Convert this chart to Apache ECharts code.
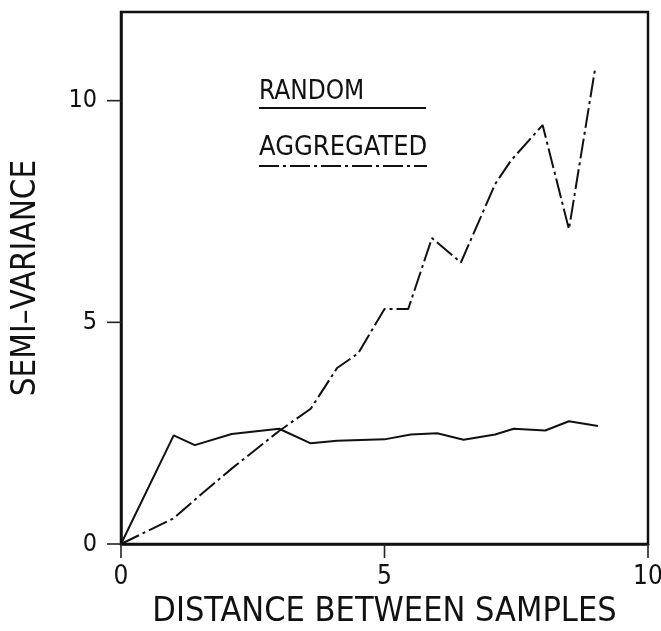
<!DOCTYPE html>
<html>
<head>
<meta charset="utf-8">
<script src="https://cdn.jsdelivr.net/npm/echarts@6/dist/echarts.min.js"></script>
<style>
html,body{margin:0;padding:0;background:#fff;}
#chart{width:661px;height:631px;}
</style>
</head>
<body>
<div id="chart"></div>
<script>
var FONT = '"DejaVu Sans Condensed", "Liberation Sans Narrow", "DejaVu Sans", sans-serif';

// random samples (solid line)
var randomX = [0, 1.0, 1.4, 2.1, 3.0, 3.6, 4.1, 5.0, 5.5, 6.0, 6.5, 7.1, 7.45, 8.05, 8.5, 9.05];
var randomY = [0, 2.45, 2.23, 2.48, 2.6, 2.27, 2.33, 2.36, 2.47, 2.5, 2.35, 2.47, 2.6, 2.56, 2.77, 2.66];

// aggregated samples (dash-dot line)
var aggX = [0, 1.0, 1.5, 2.1, 3.0, 3.6, 4.1, 4.5, 5.0, 5.45, 5.9, 6.45, 7.1, 7.4, 8.0, 8.5, 9.0];
var aggY = [0, 0.58, 1.1, 1.7, 2.55, 3.05, 3.97, 4.3, 5.3, 5.3, 6.9, 6.35, 8.12, 8.65, 9.45, 7.1, 10.75];

// tick positions
var xTicks = [0, 5, 10];
var yTicks = [0, 5, 10];

function pairs(xs, ys) {
    var out = [];
    for (var i = 0; i < xs.length; i++) {
        out.push([xs[i], ys[i]]);
    }
    return out;
}

var dashDot = [20, 4, 3, 4];
var TICK_LEN = 14;

var legendGraphics = [
    {type: 'text', left: 259, top: 79, style: {text: 'RANDOM', font: '26px ' + FONT, fill: '#111'}},
    {type: 'line', shape: {x1: 259, y1: 108, x2: 426, y2: 108}, style: {stroke: '#111', lineWidth: 2}},
    {type: 'text', left: 259, top: 134, style: {text: 'AGGREGATED', font: '27px ' + FONT, fill: '#111'}},
    {type: 'line', shape: {x1: 259, y1: 166, x2: 427, y2: 166}, style: {stroke: '#111', lineWidth: 2, lineDash: dashDot}}
];

var chart = echarts.init(document.getElementById('chart'));
var option = {
    backgroundColor: '#fff',
    animation: false,
    grid: {
        left: 121, right: 13, top: 12, bottom: 87,
        outerBoundsMode: 'none',
        containLabel: false,
        show: true,
        borderColor: '#111',
        borderWidth: 2.5
    },
    xAxis: {
        type: 'value',
        min: 0, max: 10, interval: 5,
        name: 'DISTANCE BETWEEN SAMPLES',
        nameLocation: 'middle',
        nameGap: 48,
        nameTextStyle: {fontFamily: FONT, fontSize: 34, color: '#111'},
        axisLine: {show: true, onZero: false, lineStyle: {color: '#111', width: 2.5}},
        axisTick: {show: false},
        axisLabel: {margin: 20, fontFamily: FONT, fontSize: 26, color: '#111'},
        splitLine: {show: false}
    },
    yAxis: {
        type: 'value',
        min: 0, max: 12, interval: 5,
        name: 'SEMI\u2013VARIANCE',
        nameLocation: 'middle',
        nameGap: 78,
        nameTextStyle: {fontFamily: FONT, fontSize: 33, color: '#111'},
        axisLine: {show: true, onZero: false, lineStyle: {color: '#111', width: 2.5}},
        axisTick: {show: false},
        axisLabel: {customValues: yTicks, margin: 24, fontFamily: FONT, fontSize: 25, color: '#111'},
        splitLine: {show: false}
    },
    graphic: legendGraphics,
    series: [
        {
            name: 'RANDOM',
            type: 'line',
            data: pairs(randomX, randomY),
            symbol: 'none',
            lineStyle: {color: '#111', width: 2}
        },
        {
            name: 'AGGREGATED',
            type: 'line',
            data: pairs(aggX, aggY),
            symbol: 'none',
            lineStyle: {color: '#111', width: 2, type: dashDot}
        }
    ]
};
chart.setOption(option);

// outside tick marks, positioned through the axis scales
var tickGraphics = [];
xTicks.forEach(function(v) {
    var p = chart.convertToPixel({gridIndex: 0}, [v, 0]);
    tickGraphics.push({type: 'line', z: 100, shape: {x1: p[0], y1: p[1], x2: p[0], y2: p[1] + TICK_LEN},
        style: {stroke: '#222', lineWidth: 1.6}});
});
yTicks.forEach(function(v) {
    var p = chart.convertToPixel({gridIndex: 0}, [0, v]);
    tickGraphics.push({type: 'line', z: 100, shape: {x1: p[0], y1: p[1], x2: p[0] - TICK_LEN, y2: p[1]},
        style: {stroke: '#222', lineWidth: 1.6}});
});
chart.setOption({graphic: legendGraphics.concat(tickGraphics)});

window.addEventListener('resize', chart.resize);
</script>
</body>
</html>
